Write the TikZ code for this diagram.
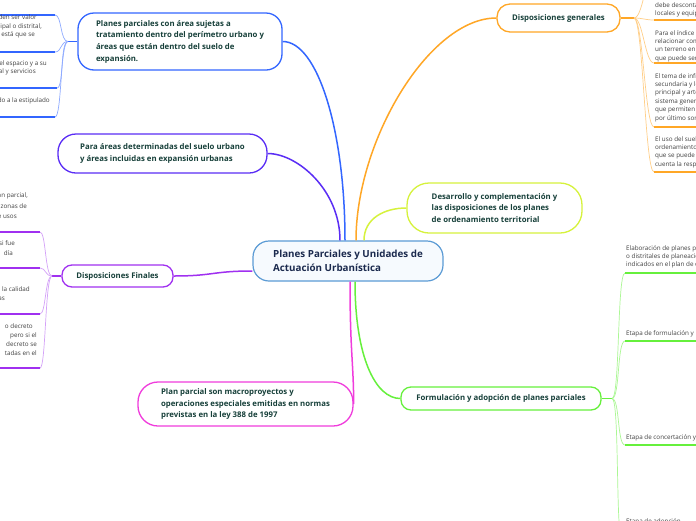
\documentclass[tikz,border=0pt]{standalone}
\usepackage{fontspec}
\setmainfont{Open Sans}
\usetikzlibrary{calc}
\definecolor{cblue}{HTML}{3366FF}
\definecolor{cindigo}{HTML}{5A2DF5}
\definecolor{cpurple}{HTML}{A030F0}
\definecolor{cmag}{HTML}{F03CDC}
\definecolor{cgreen}{HTML}{66F03C}
\definecolor{cyell}{HTML}{D6F23C}
\definecolor{corange}{HTML}{FFA726}
\definecolor{ccent}{HTML}{5B9BD5}
\definecolor{cfill}{HTML}{F6FAFE}
\definecolor{ctext}{HTML}{17403A}
\definecolor{ctitle}{HTML}{1B2A4E}
\definecolor{cleaf}{HTML}{404040}
\begin{document}
\begin{tikzpicture}[x=1pt,y=-1pt,
  hd/.style={draw, line width=1.3pt, fill=white, text=ctext, font=\bfseries\fontsize{7.8}{11.7}\selectfont, inner sep=0pt, align=left},
  leaf/.style={text=cleaf, font=\fontsize{6.3}{8.4}\selectfont, inner sep=0pt, align=left},
  ul/.style={line width=1.5pt},
  br/.style={line width=0.7pt},
  mainc/.style={line width=1.5pt}]
\clip (0,0) rectangle (696,520);
\fill[white] (0,0) rectangle (696,520);

% ---- main nodes
\node[draw=ccent, fill=cfill, line width=1.2pt, rounded corners=16pt, minimum width=190pt, minimum height=40pt, inner sep=0pt, align=left, text=ctitle, font=\bfseries\fontsize{9.8}{14}\selectfont] (c) at (348,261) {Planes Parciales y Unidades de\\Actuación Urbanística};

\node[hd, draw=cblue, rounded corners=16pt, minimum width=204pt, minimum height=57pt] (n1) at (180,41.5) {Planes parciales con área sujetas a\\tratamiento dentro del perímetro urbano y\\áreas que están dentro del suelo de\\expansión.};

\node[hd, draw=cindigo, rounded corners=18pt, minimum width=209pt, minimum height=39pt] (n2) at (162.5,153.5) {Para áreas determinadas del suelo urbano\\y áreas incluidas en expansión urbanas};

\node[hd, draw=cpurple, rounded corners=10pt, minimum width=111pt, minimum height=22pt, align=center] (n3) at (117.5,276) {Disposiciones Finales};

\node[hd, draw=cmag, rounded corners=20pt, minimum width=215pt, minimum height=44pt] (n4) at (245.5,404) {Plan parcial son macroproyectos y\\operaciones especiales emitidas en normas\\previstas en la ley 388 de 1997};

\node[hd, draw=cgreen, rounded corners=10pt, minimum width=200pt, minimum height=23pt, align=center] (n5) at (501,398.5) {Formulación y adopción de planes parciales};

\node[hd, draw=cyell, rounded corners=22pt, minimum width=175pt, minimum height=50pt] (n6) at (494.5,208) {Desarrollo y complementación y\\las disposiciones de los planes\\de ordenamiento territorial};

\node[hd, draw=corange, rounded corners=13pt, minimum width=123pt, minimum height=28pt, align=center] (n7) at (558.5,18) {Disposiciones generales};

% ---- main connectors
\draw[mainc, cblue] (n1.east) .. controls +(right:35pt) and +(up:110pt) .. ([xshift=-3pt]c.north);
\draw[mainc, cindigo] (n2.east) .. controls +(right:30pt) and +(up:50pt) .. ([xshift=-8pt]c.north);
\draw[mainc, corange] ([xshift=8pt]c.north) .. controls +(up:100pt) and +(left:67pt) .. (n7.west);
\draw[mainc, cyell] ([xshift=16pt]c.north) .. controls +(up:22pt) and +(left:22pt) .. (n6.west);
\draw[mainc, cmag] ([xshift=2pt]c.south) .. controls +(down:70pt) and +(up:40pt) .. (n4.east);
\draw[mainc, cgreen] ([xshift=7pt]c.south) .. controls +(down:75pt) and +(left:25pt) .. (n5.west);
\draw[mainc, cpurple] (n3.east) .. controls +(right:40pt) and +(left:40pt) .. ([yshift=-10pt]c.west);

% ---- blue leaves (left, top)
\coordinate (j1) at (68,41.5);
\draw[mainc, cblue] (n1.west) -- (j1);
\coordinate (b1) at (55,15);
\coordinate (b2) at (55,52);
\coordinate (b3) at (57,88);
\coordinate (b4) at (55,117);
\foreach \p in {b1,b2,b3,b4}{
  \draw[br, cblue!55] (j1) .. controls +(left:8pt) and +(right:7pt) .. (\p);
  \draw[ul, cblue] (\p) -- ($(\p)+(-70,0)$);
}
\node[leaf, anchor=base east] (t11) at (37,19) {den ser valor};
\node[leaf, anchor=base east] (t12) at (42,28) {cipal o distrital,};
\node[leaf, anchor=base east] (t13) at (35,36) {o está que se};
\node[leaf, anchor=base east] (t21) at (47,65) {el espacio y a su};
\node[leaf, anchor=base east] (t22) at (36,73) {al y servicios};
\node[leaf, anchor=base east] (t31) at (50,102) {do a la estipulado};

% ---- purple leaves (left, middle)
\coordinate (j3) at (52,276);
\draw[mainc, cpurple] (n3.west) -- (j3);
\coordinate (p1) at (40,232);
\coordinate (p2) at (40,268);
\coordinate (p3) at (40,314);
\coordinate (p4) at (40,368);
\foreach \p in {p1,p2,p3,p4}{
  \draw[br, cpurple!45] (j3) .. controls +(left:7pt) and +(right:6pt) .. (\p);
  \draw[ul, cpurple] (\p) -- ($(\p)+(-60,0)$);
}
\node[leaf, anchor=base east] (s11) at (28,197) {an parcial,};
\node[leaf, anchor=base east] (s12) at (27,208) {zonas de};
\node[leaf, anchor=base east] (s13) at (17,218) {e usos};
\node[leaf, anchor=base east] (s21) at (15,245) {si fue};
\node[leaf, anchor=base east] (s22) at (13,255) {día};
\node[leaf, anchor=base east] (s31) at (30,291) {e la calidad};
\node[leaf, anchor=base east] (s32) at (5,300) {as};
\node[leaf, anchor=base east] (s41) at (33,328) {o decreto};
\node[leaf, anchor=base east] (s42) at (37,337) {pero si el};
\node[leaf, anchor=base east] (s43) at (37,346) {decreto se};
\node[leaf, anchor=base east] (s44) at (37,355) {tadas en el};

% ---- orange leaves (right, top)
\coordinate (j7) at (634,18);
\draw[mainc, corange] (n7.east) -- (j7);
\coordinate (o0) at (654,-25);
\coordinate (o1) at (654,20);
\coordinate (o2) at (654,63);
\coordinate (o3) at (654,127);
\coordinate (o4) at (654,172);
\foreach \p in {o0,o1,o2,o3,o4}{
  \draw[br, corange!55] (j7) .. controls +(right:9pt) and +(left:9pt) .. (\p);
  \draw[ul, corange] (\p) -- ($(\p)+(60,0)$);
}
% base anchor of a multi-line node = baseline of its last line
\node[leaf, anchor=base west] (r1) at (655,15.4) {debe descontarse\\locales y equipamientos};
\node[leaf, anchor=base west] (r2) at (655,60.2) {Para el índice de\\relacionar como\\un terreno en Área\\que puede ser};
\node[leaf, anchor=base west] (r3) at (655,120) {El tema de infraestructura\\secundaria y local\\principal y arterial\\sistema general\\que permiten m\\por último son};
\node[leaf, anchor=base west] (r4) at (655,166.2) {El uso del suelo\\ordenamiento territorial\\que se puede establecer\\cuenta la respectiva};

% ---- green leaves (right, bottom)
\coordinate (j5) at (612,398.5);
\draw[mainc, cgreen] (n5.east) -- (j5);
\coordinate (g1) at (625,273);
\coordinate (g2) at (625,341);
\coordinate (g3) at (625,445);
\coordinate (g4) at (623,545);
\foreach \p in {g1,g2,g3,g4}{
  \draw[br, cgreen!55] (j5) .. controls +(right:8pt) and +(left:8pt) .. (\p);
  \draw[ul, cgreen] (\p) -- ($(\p)+(80,0)$);
}
\node[leaf, anchor=base west] (q1) at (626,266.8) {Elaboración de planes parciales\\o distritales de planeación\\indicados en el plan de ordenamiento};
\node[leaf, anchor=base west] (q2) at (626,335) {Etapa de formulación y revisión};
\node[leaf, anchor=base west] (q3) at (626,439) {Etapa de concertación y consulta};
\node[leaf, anchor=base west] (q4) at (626,523) {Etapa de adopción};
\end{tikzpicture}
\end{document}
